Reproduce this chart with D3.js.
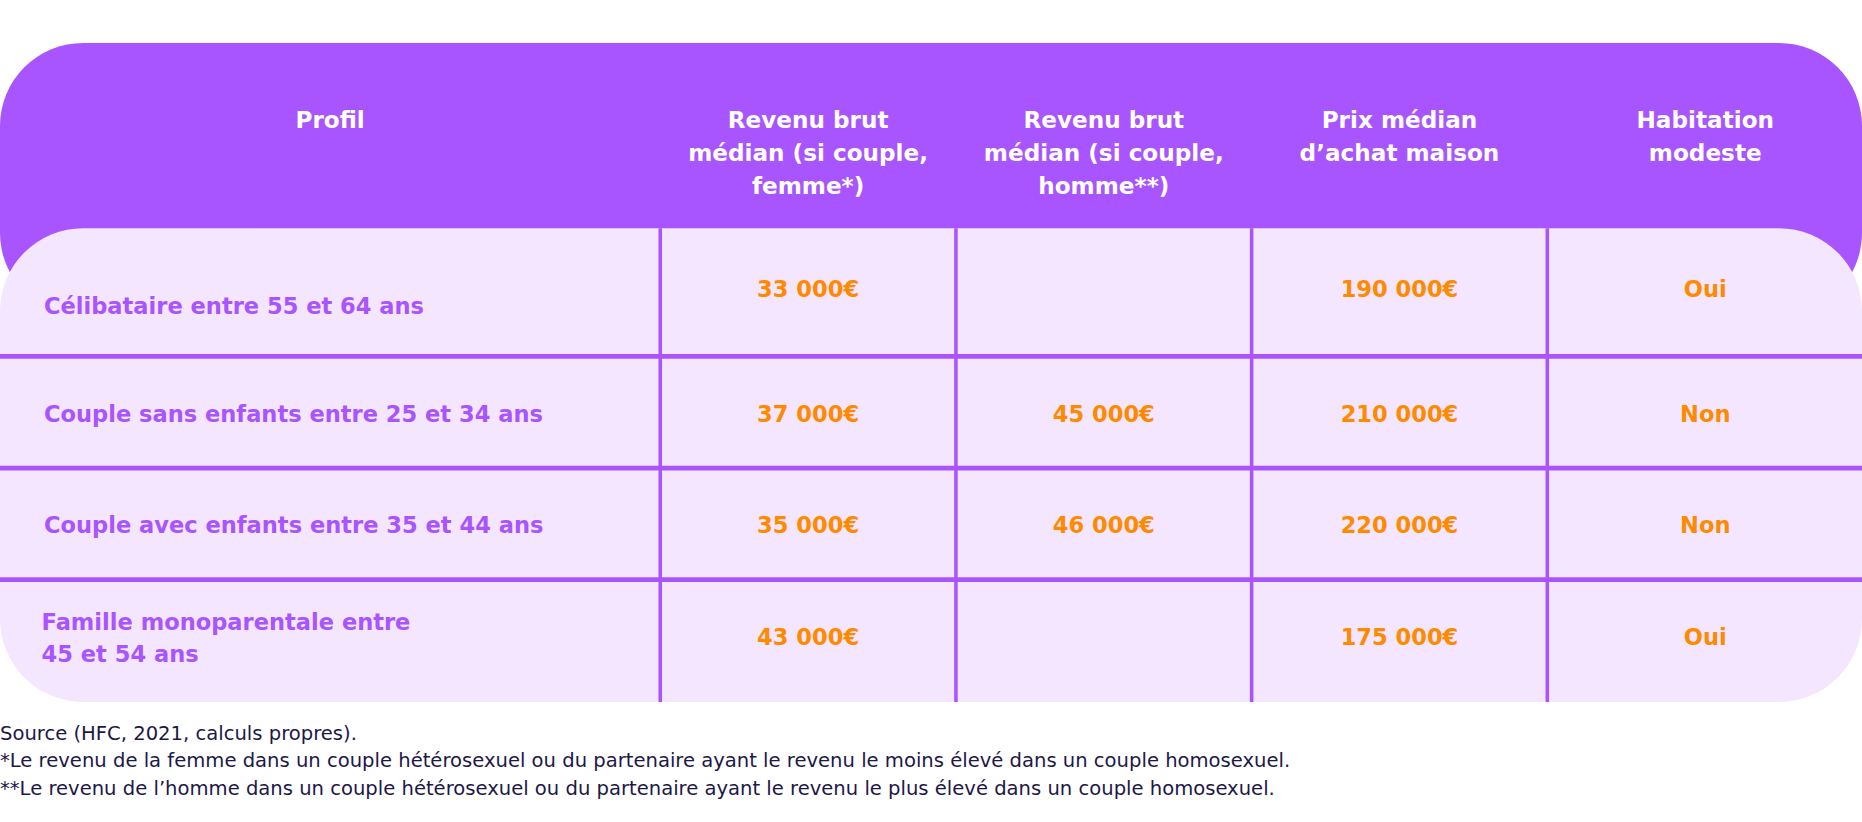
<!DOCTYPE html>
<html><head><meta charset="utf-8">
<script src="https://cdn.jsdelivr.net/npm/d3@7"></script>
<style>body{margin:0;background:#fff}</style>
</head><body><div id="chart"></div>
<script>
// data
const headers = [["Profil"], ["Revenu brut", "médian (si couple,", "femme*)"], ["Revenu brut", "médian (si couple,", "homme**)"], ["Prix médian", "d’achat maison"], ["Habitation", "modeste"]]
const profiles = [["Célibataire entre 55 et 64 ans"], ["Couple sans enfants entre 25 et 34 ans"], ["Couple avec enfants entre 35 et 44 ans"], ["Famille monoparentale entre", "45 et 54 ans"]]
const revenuFemme = ["33 000€", "37 000€", "35 000€", "43 000€"]
const revenuHomme = ["", "45 000€", "46 000€", ""]
const prixMaison = ["190 000€", "210 000€", "220 000€", "175 000€"]
const habitation = ["Oui", "Non", "Non", "Oui"]
const notes = ["Source (HFC, 2021, calculs propres).",
  "*Le revenu de la femme dans un couple hétérosexuel ou du partenaire ayant le revenu le moins élevé dans un couple homosexuel.",
  "**Le revenu de l’homme dans un couple hétérosexuel ou du partenaire ayant le revenu le plus élevé dans un couple homosexuel."]

const W = 1568, H = 690
const purple = "#a855ff", light = "#f3e6fe", orange = "#ff8a00", navy = "#1d1848"
const font = "'DejaVu Sans', sans-serif"

const svg = d3.select("#chart").append("svg")
  .attr("width", 1862).attr("height", 822)
  .attr("viewBox", [0, 0, W, H])
  .style("font-family", font)

const cols = d3.scaleBand().domain([1, 2, 3, 4]).range([556, 1552])
const colCenter = i => i === 0 ? 278 : i === 4 ? 1436 : cols(i) + cols.bandwidth() / 2
const rows = d3.scaleBand().domain(d3.range(profiles.length)).range([205, 581])
const rowCenter = r => rows(r) + rows.step() / 2

// header block
svg.append("rect").attr("x", 0).attr("y", 35).attr("width", W).attr("height", 230)
  .attr("rx", 70).attr("fill", purple)
// body block
svg.append("rect").attr("x", 0).attr("y", 191).attr("width", W).attr("height", 399)
  .attr("rx", 70).attr("fill", light)

// header text
headers.forEach((lines, i) => {
  const t = svg.append("text").attr("x", colCenter(i)).attr("y", 107)
    .attr("text-anchor", "middle").attr("fill", "#fff")
    .attr("font-size", 19.5).attr("font-weight", 700)
  lines.forEach((l, k) => t.append("tspan").attr("x", colCenter(i)).attr("dy", k ? 27.5 : 0).text(l))
})

// grid lines
cols.domain().forEach(c => svg.append("line")
  .attr("x1", cols(c)).attr("x2", cols(c)).attr("y1", 191).attr("y2", 590)
  .attr("stroke", purple).attr("stroke-width", 3))
rows.domain().slice(1).forEach(r => svg.append("line")
  .attr("x1", 0).attr("x2", W).attr("y1", rows(r)).attr("y2", rows(r))
  .attr("stroke", purple).attr("stroke-width", 4))

// profile labels
profiles.forEach((lines, r) => {
  const multi = lines.length > 1
  const y0 = r === 0 ? rowCenter(r) + 11 : multi ? rowCenter(r) - 5 : rowCenter(r) + 8
  const t = svg.append("text").attr("y", y0).attr("fill", purple)
    .attr("font-size", 19).attr("font-weight", 700)
  lines.forEach((l, k) => t.append("tspan").attr("x", multi ? 35 : 37).attr("dy", k ? 27 : 0).text(l))
})

// values
const valueCols = [revenuFemme, revenuHomme, prixMaison, habitation]
valueCols.forEach((vals, ci) => {
  svg.append("g").selectAll("text").data(vals).join("text")
    .attr("x", colCenter(ci + 1))
    .attr("y", (d, r) => r === 0 ? rowCenter(r) - 3 : rowCenter(r) + 8)
    .attr("text-anchor", "middle").attr("fill", orange)
    .attr("font-size", 19).attr("font-weight", 700)
    .text(d => d)
})

// notes
svg.append("g").selectAll("text").data(notes).join("text")
  .attr("x", 0).attr("y", (d, i) => 622 + i * 23)
  .attr("fill", navy).attr("font-size", 16.5)
  .text(d => d)
</script>
</body></html>
